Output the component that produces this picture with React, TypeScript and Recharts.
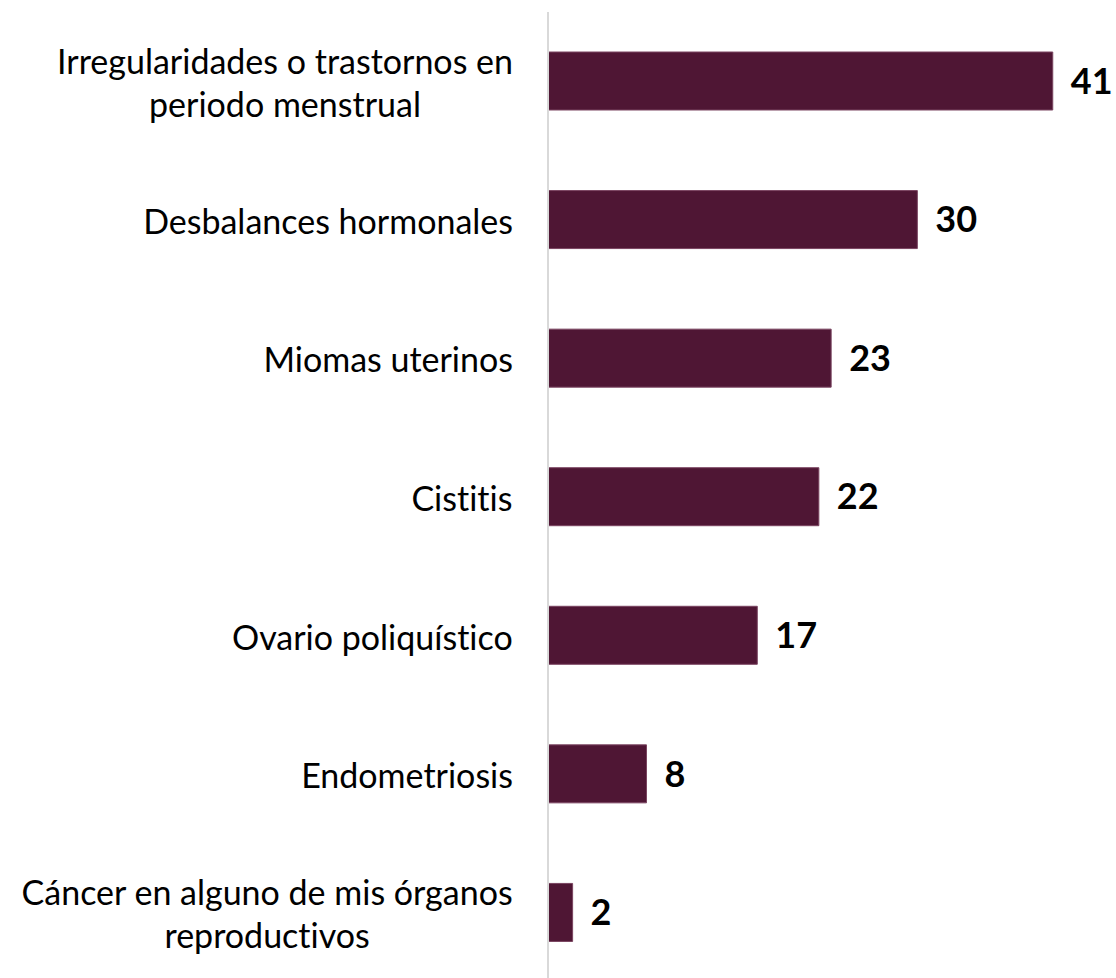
import React from "react";
import { BarChart, Bar, XAxis, YAxis, LabelList } from "recharts";

const categories = [
  "Irregularidades o trastornos en periodo menstrual",
  "Desbalances hormonales",
  "Miomas uterinos",
  "Cistitis",
  "Ovario poliquístico",
  "Endometriosis",
  "Cáncer en alguno de mis órganos reproductivos",
];
const values = [41, 30, 23, 22, 17, 8, 2];

const data = categories.map((name, i) => ({ name, value: values[i] }));

const FONT = "Lato, 'Open Sans', sans-serif";
const FONT_SIZE = 34;

function wrap(text: string, max: number): string[] {
  const words = text.split(" ");
  const lines: string[] = [];
  let cur = "";
  for (const w of words) {
    const next = cur ? cur + " " + w : w;
    if (next.length > max && cur) {
      lines.push(cur);
      cur = w;
    } else {
      cur = next;
    }
  }
  if (cur) lines.push(cur);
  return lines;
}

let ctx: CanvasRenderingContext2D | null = null;
function measure(s: string): number {
  if (!ctx) {
    const c = document.createElement("canvas");
    ctx = c.getContext("2d");
  }
  if (!ctx) return s.length * FONT_SIZE * 0.5;
  ctx.font = `${FONT_SIZE}px Lato`;
  return ctx.measureText(s).width;
}

const CategoryTick = (props: any) => {
  const { x, y, payload } = props;
  const lines = wrap(String(payload.value), 32);
  const lh = 43;
  const start = y - ((lines.length - 1) * lh) / 2;
  const right = x - 27;
  const maxW = Math.max(...lines.map(measure));
  const cx = right - maxW / 2;
  return (
    <text
      x={cx}
      y={start}
      textAnchor="middle"
      fill="#000"
      fontFamily={FONT}
      fontSize={FONT_SIZE}
      dominantBaseline="central"
      style={{ fontVariantLigatures: "none" }}
    >
      {lines.map((l, i) => (
        <tspan key={i} x={cx} y={start + i * lh} dominantBaseline="central">
          {l}
        </tspan>
      ))}
    </text>
  );
};

export default function App() {
  return (
    <div
      style={{
        position: "absolute",
        left: 0,
        top: 0,
        width: 1116,
        height: 978,
        overflow: "hidden",
        background: "#fff",
      }}
    >
      <BarChart
        width={1116}
        height={992}
        data={data}
        layout="vertical"
        margin={{ top: 12, right: 14, bottom: 10, left: 0 }}
        barSize={58}
      >
        <XAxis type="number" hide domain={[0, 45]} />
        <YAxis
          type="category"
          dataKey="name"
          width={548}
          axisLine={{ stroke: "#d9d9d9", strokeWidth: 2 }}
          tickLine={false}
          tick={<CategoryTick />}
          interval={0}
        />
        <Bar
          dataKey="value"
          fill="#4F1634"
          stroke="#7a4460"
          strokeWidth={1}
          isAnimationActive={false}
        >
          <LabelList
            dataKey="value"
            position="right"
            offset={18}
            fill="#000"
            fontFamily={FONT}
            fontSize={36}
            fontWeight="bold"
          />
        </Bar>
      </BarChart>
    </div>
  );
}
